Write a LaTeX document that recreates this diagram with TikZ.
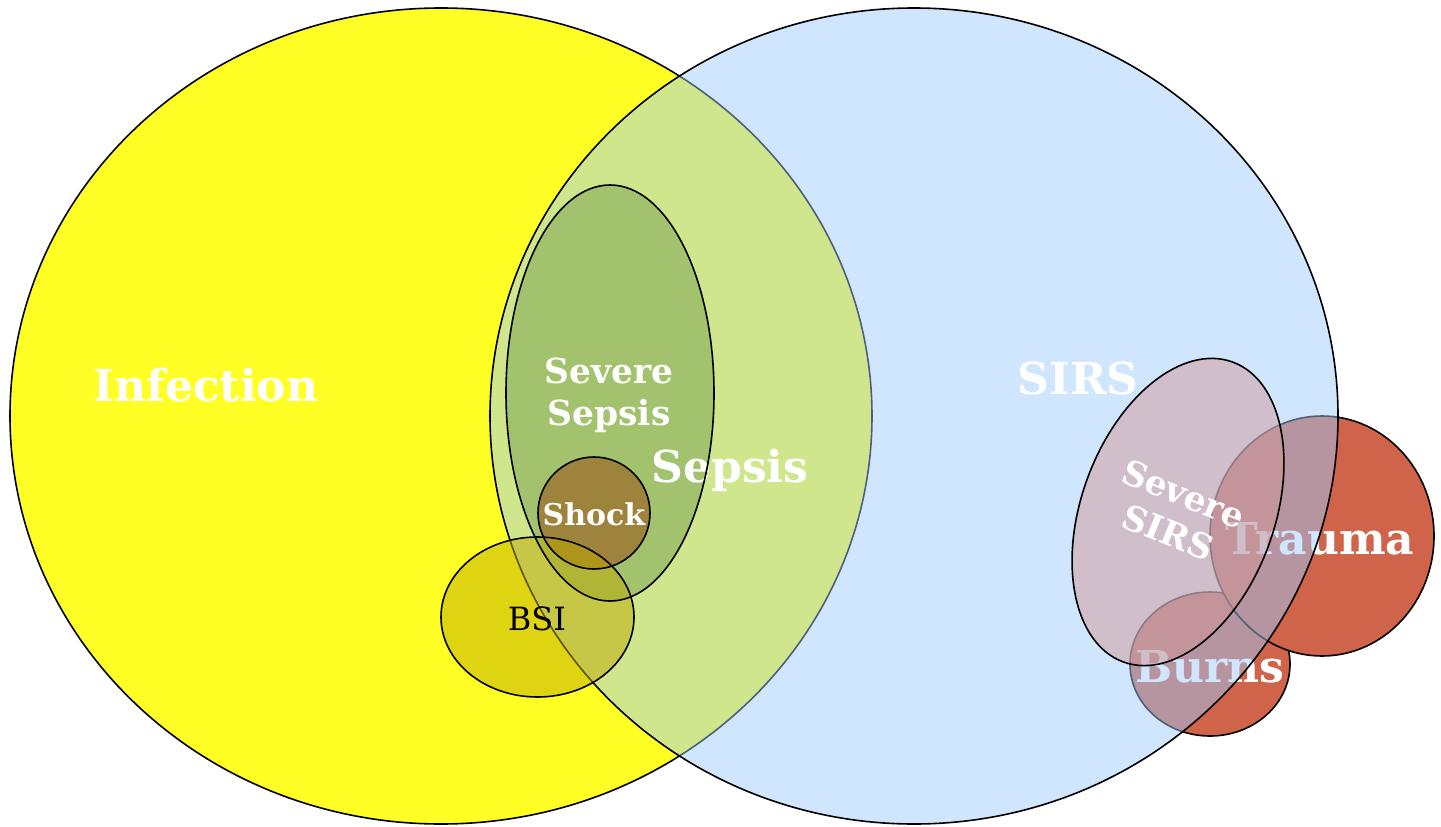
\documentclass[tikz,border=0pt]{standalone}
\usepackage{fontspec}
\setmainfont{DejaVu Serif}
\definecolor{infyel}{RGB}{255,255,38}
\definecolor{sirsblue}{RGB}{157,203,255}
\definecolor{traumared}{RGB}{208,100,74}
\definecolor{sevsepgreen}{RGB}{120,160,80}
\definecolor{shockbrown}{RGB}{155,80,20}
\definecolor{bsiolive}{RGB}{190,170,0}
\definecolor{sevsirspink}{RGB}{208,150,150}
\tikzset{
  outline/.style={draw=black, line width=1.6pt},
  biglabel/.style={text=white, font=\bfseries\fontsize{44}{50}\selectfont, inner sep=0pt},
  midlabel/.style={text=white, font=\bfseries\fontsize{34.5}{42}\selectfont, inner sep=0pt, align=center},
  smalllabel/.style={text=white, font=\bfseries\fontsize{30}{36}\selectfont, inner sep=0pt},
}
\begin{document}
\begin{tikzpicture}[x=1pt,y=-1pt]
\useasboundingbox (0,0) rectangle (1441,827);
% Infection
\draw[outline, fill=infyel] (441,416) ellipse [x radius=431, y radius=408];
\node[biglabel] (inf) at (206,385) {Infection};
% Burns and Trauma
\draw[outline, fill=traumared] (1210,664) ellipse [x radius=80, y radius=72];
\draw[outline, fill=traumared] (1322,536) ellipse [x radius=112, y radius=120];
\node[biglabel] (trauma) at (1320,539) {Trauma};
\node[biglabel] (burns) at (1210,667) {Burns};
% SIRS
\fill[sirsblue, fill opacity=0.48] (914,416) ellipse [x radius=424, y radius=408];
\draw[outline] (914,416) ellipse [x radius=424, y radius=408];
\node[biglabel] (sirs) at (1078,378) {SIRS};
% Severe sepsis, shock, BSI
\fill[sevsepgreen, fill opacity=0.5] (610,393) ellipse [x radius=104, y radius=208];
\fill[shockbrown, fill opacity=0.55] (594,513) circle [radius=56];
\fill[bsiolive, fill opacity=0.5] (537.5,617) ellipse [x radius=96.5, y radius=80];
\node[biglabel] (sepsis) at (730,470) {Sepsis};
\draw[outline] (610,393) ellipse [x radius=104, y radius=208];
\draw[outline] (594,513) circle [radius=56];
\draw[outline] (537.5,617) ellipse [x radius=96.5, y radius=80];
\node[midlabel] (sevsep) at (609,395) {Severe\\Sepsis};
\node[smalllabel] (shock) at (594,514) {Shock};
\node[text=black, font=\fontsize{32}{36}\selectfont, inner sep=0pt] (bsi) at (537,619) {BSI};
% Severe SIRS
\fill[sevsirspink, fill opacity=0.5, rotate around={-20:(1178,512)}] (1178,512) ellipse [x radius=96.6, y radius=159.6];
\draw[outline, rotate around={-20:(1178,512)}] (1178,512) ellipse [x radius=96.6, y radius=159.6];
\node[midlabel, rotate=-22] (sevsirs) at (1176,513) {Severe\\SIRS};
\end{tikzpicture}
\end{document}
